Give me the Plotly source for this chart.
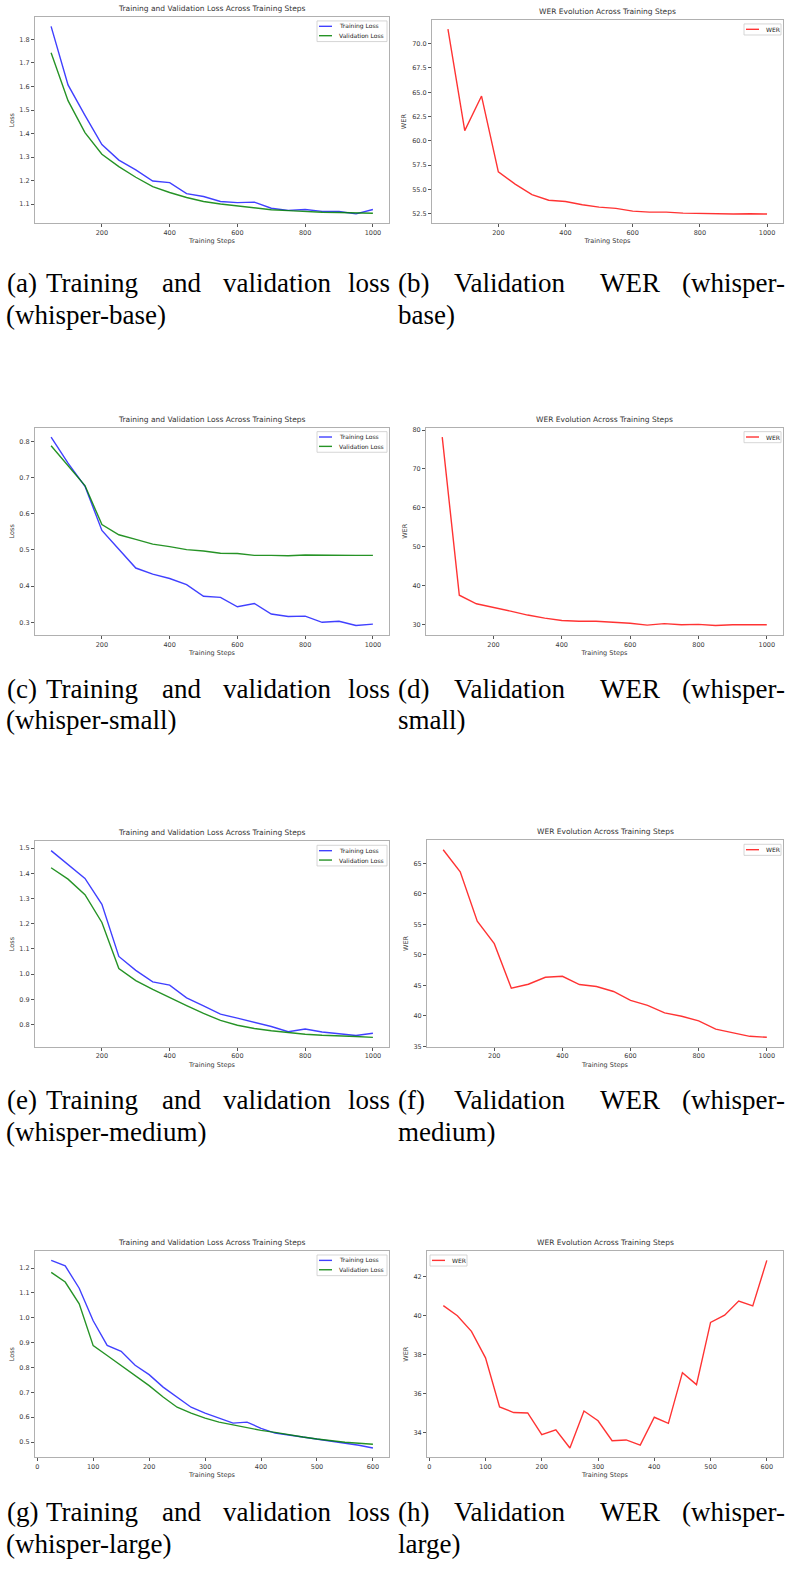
import plotly.graph_objects as go

# ---------------- data ----------------
steps_1000 = [50, 100, 150, 200, 250, 300, 350, 400, 450, 500,
              550, 600, 650, 700, 750, 800, 850, 900, 950, 1000]
steps_600 = [25, 50, 75, 100, 125, 150, 175, 200, 225, 250, 275, 300,
             325, 350, 375, 400, 425, 450, 475, 500, 525, 550, 575, 600]

base_train = [1.856, 1.607, 1.477, 1.353, 1.287, 1.245, 1.198, 1.191, 1.144, 1.132,
              1.111, 1.106, 1.108, 1.082, 1.073, 1.077, 1.069, 1.068, 1.058, 1.077]
base_val = [1.744, 1.540, 1.404, 1.312, 1.259, 1.214, 1.174, 1.149, 1.128, 1.111,
            1.100, 1.092, 1.083, 1.076, 1.072, 1.068, 1.065, 1.064, 1.061, 1.061]
base_wer = [71.49, 61.05, 64.61, 56.81, 55.55, 54.47, 53.89, 53.76, 53.42, 53.18,
            53.05, 52.77, 52.67, 52.67, 52.57, 52.53, 52.47, 52.47, 52.50, 52.47]

small_train = [0.812, 0.740, 0.676, 0.554, 0.502, 0.450, 0.433, 0.421, 0.404, 0.372,
               0.369, 0.343, 0.352, 0.323, 0.316, 0.317, 0.300, 0.303, 0.291, 0.295]
small_val = [0.788, 0.733, 0.678, 0.570, 0.542, 0.529, 0.516, 0.509, 0.501, 0.497,
             0.491, 0.490, 0.485, 0.485, 0.484, 0.486, 0.485, 0.485, 0.485, 0.485]
small_wer = [78.2, 37.5, 35.3, 34.4, 33.4, 32.4, 31.6, 31.0, 30.8, 30.8,
             30.6, 30.3, 29.8, 30.2, 29.9, 30.0, 29.7, 29.9, 29.9, 29.9]

medium_train = [1.490, 1.434, 1.380, 1.277, 1.070, 1.015, 0.969, 0.956, 0.906, 0.874,
                0.841, 0.825, 0.809, 0.792, 0.771, 0.782, 0.770, 0.762, 0.756, 0.765]
medium_val = [1.422, 1.377, 1.315, 1.205, 1.022, 0.974, 0.939, 0.906, 0.875, 0.844,
              0.816, 0.797, 0.784, 0.775, 0.767, 0.761, 0.757, 0.753, 0.752, 0.749]
medium_wer = [67.27, 63.65, 55.53, 51.84, 44.53, 45.18, 46.32, 46.48, 45.13, 44.80,
              43.99, 42.53, 41.71, 40.47, 39.93, 39.17, 37.82, 37.17, 36.63, 36.47]

large_train = [1.231, 1.209, 1.119, 0.988, 0.889, 0.865, 0.809, 0.771, 0.721, 0.681,
               0.640, 0.616, 0.595, 0.576, 0.580, 0.555, 0.536, 0.528, 0.520, 0.512,
               0.505, 0.495, 0.487, 0.476]
large_val = [1.183, 1.144, 1.056, 0.888, 0.848, 0.808, 0.768, 0.727, 0.681, 0.640,
             0.616, 0.596, 0.580, 0.568, 0.557, 0.547, 0.539, 0.528, 0.520, 0.512,
             0.505, 0.499, 0.495, 0.491]
large_wer = [40.50, 39.98, 39.18, 37.83, 35.32, 35.03, 35.01, 33.90, 34.15, 33.22,
             35.11, 34.61, 33.59, 33.63, 33.37, 34.79, 34.48, 37.07, 36.46, 39.64,
             40.01, 40.73, 40.48, 42.81]

xticks_1000 = [200, 400, 600, 800, 1000]
xticks_600 = [0, 100, 200, 300, 400, 500, 600]
yticks_base_loss = [1.1, 1.2, 1.3, 1.4, 1.5, 1.6, 1.7, 1.8]
yticks_base_wer = [52.5, 55.0, 57.5, 60.0, 62.5, 65.0, 67.5, 70.0]
yticks_small_loss = [0.3, 0.4, 0.5, 0.6, 0.7, 0.8]
yticks_small_wer = [30, 40, 50, 60, 70, 80]
yticks_medium_loss = [0.8, 0.9, 1.0, 1.1, 1.2, 1.3, 1.4, 1.5]
yticks_medium_wer = [35, 40, 45, 50, 55, 60, 65]
yticks_large_loss = [0.5, 0.6, 0.7, 0.8, 0.9, 1.0, 1.1, 1.2]
yticks_large_wer = [34, 36, 38, 40, 42]

loss_title = "Training and Validation Loss Across Training Steps"
wer_title = "WER Evolution Across Training Steps"
models = ["base", "small", "medium", "large"]
letters = [("(a)", "(b)"), ("(c)", "(d)"), ("(e)", "(f)"), ("(g)", "(h)")]

# ---------------- styles / layout ----------------
W, H = 787, 1571
C_TRAIN = "rgba(0,0,255,0.75)"
C_VAL = "rgba(0,128,0,0.85)"
C_WER = "rgba(255,0,0,0.8)"
TXT = "#3a3a3a"
FONT = "DejaVu Sans"
SERIF = "Liberation Serif"

# pixel boxes (left, right, top, bottom) for each axes
boxes_left = [(35, 389, 16, 223), (35, 389, 428, 636), (35, 389, 843, 1049), (35, 389, 1254, 1461)]
boxes_right = [(432, 783, 19, 223), (426, 783, 428, 636), (427, 783, 842, 1049), (427, 783, 1254, 1461)]
cap_y1 = [283, 690, 1103, 1516]
cap_y2 = [315, 721, 1135, 1548]


def pad_range(vals, frac=0.05):
    lo, hi = min(vals), max(vals)
    d = hi - lo
    return [lo - frac * d, hi + frac * d]


def px_x(p):
    return p / W


def px_y(p):
    return 1 - p / H


fig = go.Figure()

panels = [
    (steps_1000, [("Training Loss", base_train, C_TRAIN), ("Validation Loss", base_val, C_VAL)],
     yticks_base_loss, None, "Loss", loss_title, xticks_1000),
    (steps_1000, [("WER", base_wer, C_WER)], yticks_base_wer, ".1f", "WER", wer_title, xticks_1000),
    (steps_1000, [("Training Loss", small_train, C_TRAIN), ("Validation Loss", small_val, C_VAL)],
     yticks_small_loss, ".1f", "Loss", loss_title, xticks_1000),
    (steps_1000, [("WER", small_wer, C_WER)], yticks_small_wer, None, "WER", wer_title, xticks_1000),
    (steps_1000, [("Training Loss", medium_train, C_TRAIN), ("Validation Loss", medium_val, C_VAL)],
     yticks_medium_loss, ".1f", "Loss", loss_title, xticks_1000),
    (steps_1000, [("WER", medium_wer, C_WER)], yticks_medium_wer, None, "WER", wer_title, xticks_1000),
    (steps_600, [("Training Loss", large_train, C_TRAIN), ("Validation Loss", large_val, C_VAL)],
     yticks_large_loss, ".1f", "Loss", loss_title, xticks_600),
    (steps_600, [("WER", large_wer, C_WER)], yticks_large_wer, None, "WER", wer_title, xticks_600),
]

annotations = []
shapes = []
layout_extra = {}
for i, (xs, series, yt, yfmt, ylab, title, xt) in enumerate(panels):
    n = i + 1
    row, col = divmod(i, 2)
    l, r, t, b = (boxes_left if col == 0 else boxes_right)[row]
    xa = "x" if n == 1 else f"x{n}"
    ya = "y" if n == 1 else f"y{n}"
    allv = [v for s in series for v in s[1]]
    for name, ys, colr in series:
        fig.add_trace(go.Scatter(x=xs, y=ys, name=name, mode="lines",
                                 line=dict(color=colr, width=1.4),
                                 xaxis=xa, yaxis=ya, showlegend=False))
    xr = pad_range(xs)
    if xt[0] == 0:
        xr = [min(xr[0], -4.0), xr[1]]
    common = dict(showline=True, mirror=True, linecolor="#b0b0b0", linewidth=1,
                  ticks="outside", ticklen=3, tickwidth=0.8, tickcolor="#555",
                  showgrid=False, zeroline=False,
                  tickfont=dict(family=FONT, size=6.5, color=TXT))
    layout_extra["xaxis" if n == 1 else f"xaxis{n}"] = dict(
        domain=[l / W, r / W], anchor=ya, range=xr, tickvals=xt,
        title=dict(text="Training Steps", font=dict(family=FONT, size=6.5, color=TXT), standoff=2),
        **common)
    ydict = dict(domain=[1 - b / H, 1 - t / H], anchor=xa, range=pad_range(allv), tickvals=yt,
                 title=dict(text=ylab, font=dict(family=FONT, size=6.5, color=TXT), standoff=4),
                 **common)
    if yfmt:
        ydict["tickformat"] = yfmt
    layout_extra["yaxis" if n == 1 else f"yaxis{n}"] = ydict

    # legend box (matplotlib-style, small)
    lw = 70 if len(series) == 2 else 37
    lh = 1.5 + 9.6 * len(series)
    ltop = t + 4
    lleft = (l + 3) if n == 8 else (r - 2 - lw)
    shapes.append(dict(type="rect", xref="paper", yref="paper",
                       x0=px_x(lleft), x1=px_x(lleft + lw), y0=px_y(ltop + lh), y1=px_y(ltop),
                       line=dict(color="#cccccc", width=0.8), fillcolor="rgba(255,255,255,0.85)",
                       layer="above"))
    for k, (name, ys, colr) in enumerate(series):
        cy = ltop + 5.4 + 9.4 * k
        shapes.append(dict(type="line", xref="paper", yref="paper",
                           x0=px_x(lleft + 2), x1=px_x(lleft + 15), y0=px_y(cy), y1=px_y(cy),
                           line=dict(color=colr, width=1.4), layer="above"))
        annotations.append(dict(text=name, xref="paper", yref="paper", x=px_x(lleft + 19.5), y=px_y(cy),
                                xanchor="left", yanchor="middle", showarrow=False,
                                font=dict(family=FONT, size=6, color="#222")))

    # subplot title
    annotations.append(dict(text=title, xref="paper", yref="paper", x=(l + r) / 2 / W,
                            y=px_y(t - 2), xanchor="center", yanchor="bottom", showarrow=False,
                            font=dict(family=FONT, size=7.5, color="#333")))

# captions (justified two-line captions, as in the source document)
for row in range(4):
    la, lb = letters[row]
    m = models[row]
    y1 = px_y(cap_y1[row])
    y2 = px_y(cap_y2[row])
    words = [(la, 5, "left", y1), ("Training", 92, "center", y1), ("and", 181, "center", y1),
             ("validation", 277, "center", y1), ("loss", 392, "right", y1),
             (lb, 396, "left", y1), ("Validation", 510, "center", y1), ("WER", 630, "center", y1),
             ("(whisper-", 787, "right", y1),
             (f"(whisper-{m})", 4, "left", y2), (f"{m})", 396, "left", y2)]
    for txt, px, anc, yy in words:
        annotations.append(dict(text=txt, xref="paper", yref="paper", x=px / W, y=yy,
                                xanchor=anc, yanchor="middle", showarrow=False,
                                font=dict(family=SERIF, size=27, color="#000")))

fig.update_layout(width=W, height=H, margin=dict(l=0, r=0, t=0, b=0),
                  paper_bgcolor="white", plot_bgcolor="white", showlegend=False,
                  annotations=annotations, shapes=shapes, **layout_extra)

fig.write_html("out.html")
